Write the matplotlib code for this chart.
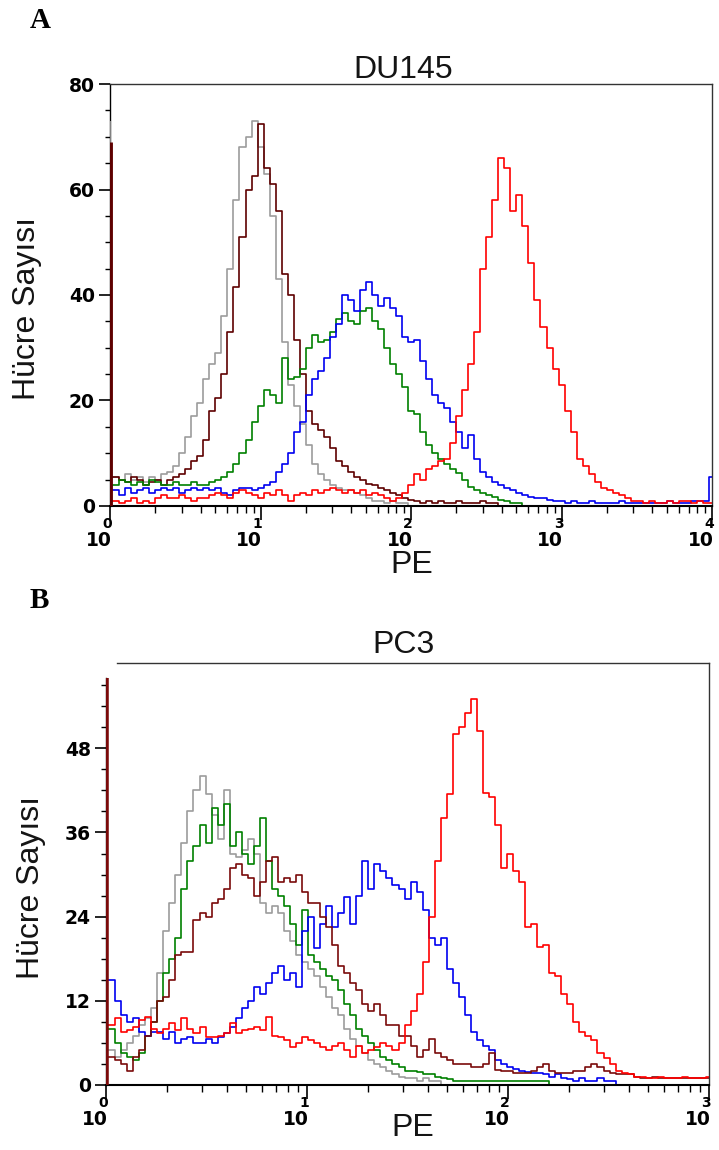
import numpy as np
import matplotlib
matplotlib.use("Agg")
import matplotlib.pyplot as plt
from matplotlib.ticker import LogLocator, NullFormatter, FixedLocator

plt.rcParams['font.family'] = ['Liberation Sans', 'DejaVu Sans']

# channel grid: A spans 4 decades, B spans 3 decades (101 channels each)
chan_a = 10 ** np.linspace(0, 4, 101)
chan_b = 10 ** np.linspace(0, 3, 101)

# ---- panel A: DU145 (counts per channel, first value = channel-0 spike)
gray_a = [73, 5.5, 5, 6, 5, 5.5, 4.5, 5.5, 5, 6,
          6.5, 7.5, 10, 13, 17, 19.5, 24, 27, 29, 36,
          45, 58, 68, 70, 73, 68, 63, 55, 43, 31,
          23, 19, 15.5, 11.5, 8, 6, 5, 4, 3.5, 3,
          3, 2.5, 2, 1.5, 1, 1, 0.5, 1, 0.5, 0.5, 0]
darkred_a = [69, 5.5, 5, 4.5, 5.5, 5, 4, 4.5, 5, 4,
             5, 5.5, 6, 7, 8.5, 9.5, 12.5, 18, 20.5, 25,
             33, 41.5, 51, 60, 62.5, 72.5, 64, 61, 56, 44,
             40, 31.5, 25, 18, 15.5, 14.5, 13, 11, 8.5, 7.5,
             6.5, 5.5, 5, 4.2, 4, 3.5, 3, 2.5, 2, 1.5,
             1.2, 1, 0.5, 1, 0.5, 1, 0.5, 0.5, 1, 0.5,
             0.5, 0.5, 1, 0.5, 0.5, 0]
green_a = [5, 4, 5, 4.5, 4, 4.5, 4, 5, 4.5, 4,
           4, 4.5, 4, 4, 4.5, 4, 4, 4.5, 5, 5.5,
           6.5, 8, 10, 12.5, 16, 19, 22, 21, 19.5, 28,
           24, 24.5, 26, 30, 32.5, 31, 31.5, 33, 35.5, 36.5,
           35, 34.5, 37, 37.5, 35, 33.5, 30, 27, 25, 22.5,
           18, 17.5, 14, 11.5, 10, 9, 8, 7, 6.2, 5,
           3.6, 3, 2.4, 2, 1.8, 1.2, 1, 0.5, 0.5, 0]
blue_a = [25, 3, 2, 3.5, 2.5, 3, 3.5, 2.5, 3, 3.5,
          3, 3.5, 2.5, 3, 3.5, 3, 3.5, 3, 3.5, 2.5,
          2, 3, 3.5, 3.5, 3, 3.5, 4, 4.5, 6.5, 8,
          10, 14, 16, 21, 24, 25.5, 28, 32, 34.5, 40,
          39, 37, 41, 42.5, 40, 38, 39.5, 37.5, 36, 32,
          31, 31.5, 27.5, 24, 21, 19.5, 18.5, 16, 14, 11,
          13.5, 9, 6.5, 5.5, 4.5, 4, 3.5, 3, 2.5, 2,
          1.8, 1.5, 1.5, 1.2, 1, 1, 0.5, 1, 0.5, 0.5,
          1, 0.5, 0.5, 0.5, 0.5, 1, 0.5, 0.5, 0.5, 0.5,
          0.5, 0.5, 0.5, 1, 0.5, 0.5, 0.5, 1, 1, 1, 5.5]
red_a = [3, 1, 0.5, 1, 1.5, 0.5, 1, 0.5, 1.5, 2,
         1.5, 1.5, 2, 1.5, 1, 1.5, 1.5, 2, 2.5, 2,
         1.5, 2.5, 3, 2.5, 2, 1.5, 2.5, 2, 3, 2,
         1, 2, 2.5, 2, 3, 2.5, 3, 3.5, 3, 2.5,
         3, 2.5, 3, 2, 2.5, 2, 1.5, 1, 1.5, 2.5,
         4, 6, 5, 7, 7.5, 8.5, 9, 12, 17, 22,
         27, 33, 45, 51, 58, 66, 64, 56, 59, 53,
         46, 39, 34, 30, 26, 23, 18, 14, 9, 7.5,
         6, 4.5, 3.5, 3, 2.5, 2, 1.5, 1, 1, 0.5,
         1, 0.5, 0.5, 1, 0.5, 1, 1, 0.5, 1, 0.5, 0.5]

# ---- panel B: PC3
gray_b = [5, 5, 4, 5, 6, 7, 8.5, 9.5, 11, 16,
          22, 26, 30, 34.5, 39, 42, 44, 41.5, 38.5, 35,
          42, 33, 32.5, 33.5, 35, 33, 26, 24.5, 25.5, 24.5,
          22, 20.5, 18.5, 17.5, 16.5, 15.5, 14, 12.5, 11, 10,
          8, 6.5, 5.5, 4.5, 3.5, 3, 2.5, 2, 1.5, 1.2,
          1, 1, 0.5, 1, 0.5, 0.5, 0]
green_b = [10, 8, 6, 4.5, 4, 3.5, 4.5, 7, 9, 12,
           16, 18, 21, 28, 32, 34, 37, 34.5, 39.5, 37,
           40, 34, 36, 33, 31.5, 34, 38, 32, 28, 27,
           25.5, 23, 20, 25, 18.5, 17.5, 16.5, 15.5, 15, 13.5,
           11.5, 10, 8, 7, 6, 5, 4, 3.5, 3, 2.5,
           2, 2, 1.8, 1.5, 1.5, 1.2, 1, 0.8, 0.5, 0.5,
           0.5, 0.5, 0.5, 0.5, 0.5, 0.5, 0.5, 0.5, 0.5, 0.5,
           0.5, 0.5, 0.5, 0.5, 0]
blue_b = [14, 15, 12, 10, 9, 9.5, 7.5, 7, 7.5, 7.5,
          6.5, 7.5, 6, 6.5, 6.8, 6, 6, 6.5, 6, 6.8,
          7.4, 8.3, 9.5, 11, 12, 14, 13, 14.5, 16, 17,
          15, 16, 14, 22, 24, 19.5, 23, 25.5, 22.5, 24.5,
          26.8, 23, 27, 32, 28, 31.5, 30.5, 29.5, 28.5, 28,
          26.5, 29, 27.5, 25, 21, 20, 21, 16.5, 14.5, 12.5,
          10, 7.5, 6.4, 5.5, 5, 3.5, 3, 2.6, 2.3, 2,
          1.8, 1.7, 1.7, 1.5, 1.2, 1.5, 1, 0.8, 0.5, 1,
          0.5, 0.5, 1, 0.5, 0.5, 0]
darkred_b = [58, 4, 3.5, 3, 2, 4, 5, 7, 9, 12,
             12.5, 15, 18.5, 19, 19, 23.5, 24.5, 24, 26, 26.5,
             28, 31, 31.5, 30, 29.5, 27, 29, 32, 32.5, 29,
             29.5, 29, 30, 27.5, 26, 26, 24, 22.5, 20, 17,
             16, 14.5, 13.5, 11.5, 10.5, 11.5, 10, 8.5, 8.5, 7,
             7, 5.5, 4, 5, 6.5, 4.5, 4, 3.5, 3, 3,
             3, 2.6, 2.6, 3, 4.5, 2.1, 2, 2, 1.7, 1.7,
             1.7, 2, 2.5, 3, 2, 1.7, 1.7, 1.7, 2, 2,
             2.5, 3, 2.5, 2, 1.7, 1.5, 1.5, 1.5, 1.2, 1,
             1, 1.2, 1, 1, 1, 1, 1, 1, 1, 1, 1]
red_b = [9, 8.5, 9.5, 7.5, 7.8, 8.3, 9.3, 9.7, 8, 7.4,
         8, 8.8, 7.8, 9.5, 8, 7.4, 8.3, 6.8, 6.8, 7,
         7.4, 8.8, 7.4, 7.8, 8, 8.3, 7.8, 9.7, 7, 6.8,
         6.4, 5.4, 6, 6.8, 6.4, 6, 5.4, 5, 5.5, 6,
         5, 4, 5.5, 4.6, 5, 5.4, 6, 5.5, 5, 6,
         8.5, 10.5, 13, 17.5, 24, 32, 38, 41.5, 50, 51,
         53, 55, 50.5, 41.6, 41, 37, 31, 33, 30.5, 29,
         22.5, 23, 19.7, 20, 16, 15.5, 13, 11.5, 9, 7.5,
         7, 6.4, 4.6, 3.8, 3, 2, 1.7, 1.5, 1.2, 1.1,
         1, 1, 1.1, 1, 1, 1, 1.1, 1, 1, 1, 1.1]

decades_a = [0, 1, 2, 3, 4]
decades_b = [0, 1, 2, 3]
yticks_a = [0, 20, 40, 60, 80]
yticks_b = [0, 12, 24, 36, 48]

GRAY, DRED, GREEN, BLUE, RED = '#9c9c9c', '#5e0000', '#008000', '#0000f0', '#ff0000'
TXT = '#141414'


def draw_panel(ax, chan, curves, ymax, yticks, yminor, ytop, decades):
    for vals, col, spike_lw, z in curves:
        vals = np.asarray(vals, float)
        x = chan[:len(vals)]
        y = np.r_[vals[1], vals[1:]]
        ax.plot(x, y, drawstyle='steps-mid', color=col, lw=1.2, zorder=2)
        ax.vlines(chan[0], 0, vals[0], color=col, lw=spike_lw, zorder=z)

    ax.set_xscale('log')
    ax.set_xlim(chan[0], chan[-1])
    ax.set_ylim(0, ymax)
    ax.xaxis.set_major_locator(LogLocator(base=10, numticks=10))
    ax.xaxis.set_minor_locator(LogLocator(base=10, subs=range(2, 10), numticks=20))
    ax.xaxis.set_major_formatter(NullFormatter())
    ax.xaxis.set_minor_formatter(NullFormatter())
    ax.yaxis.set_minor_locator(FixedLocator(np.arange(0, ytop, yminor)))
    ax.set_yticks(yticks)
    ax.set_yticklabels([str(v) for v in yticks], fontsize=13.5,
                       fontweight='bold', family='DejaVu Sans')
    ax.tick_params(axis='x', which='major', length=10, width=1.2, direction='out')
    ax.tick_params(axis='x', which='minor', length=5, width=1, direction='out')
    ax.tick_params(axis='y', which='major', length=8, width=1.2, direction='out', pad=3)
    ax.tick_params(axis='y', which='minor', length=3.5, width=1, direction='out')
    ax.tick_params(top=False, right=False, which='both')

    for e in decades:
        ax.annotate('10', xy=(10 ** e, 0), xycoords=('data', 'axes fraction'),
                    xytext=(1, -25), textcoords='offset points', ha='right', va='center',
                    fontsize=13.5, fontweight='bold', family='DejaVu Sans',
                    annotation_clip=False)
        ax.annotate(str(e), xy=(10 ** e, 0), xycoords=('data', 'axes fraction'),
                    xytext=(1.5, -13), textcoords='offset points', ha='right', va='center',
                    fontsize=10, fontweight='bold', family='DejaVu Sans',
                    annotation_clip=False)

    for side in ['top', 'right']:
        ax.spines[side].set_color('#333333')
        ax.spines[side].set_linewidth(1)
    ax.spines['left'].set_linewidth(1)
    ax.spines['bottom'].set_linewidth(1.5)


fig = plt.figure(figsize=(7.19, 11.5), dpi=100)

ax_a = fig.add_axes([110 / 719, 1 - 506 / 1150, 602 / 719, 422 / 1150])
draw_panel(ax_a, chan_a,
           [(gray_a, GRAY, 1.2, 3), (darkred_a, DRED, 3.5, 4), (green_a, GREEN, 1.2, 2),
            (blue_a, BLUE, 1.2, 2), (red_a, RED, 1.2, 2)],
           80, yticks_a, 5, 80, decades_a)
ax_a.text(0.487, 1 + 6 / 422, 'DU145', transform=ax_a.transAxes, ha='center',
          va='baseline', fontsize=23, color=TXT)
ax_a.text(0.502, -59 / 422, 'PE', transform=ax_a.transAxes, ha='center', va='center',
          fontsize=23, color=TXT)
ax_a.text(-0.138, 0.469, 'Hücre Sayısı', transform=ax_a.transAxes, ha='center',
          va='center', rotation=90, fontsize=23, color=TXT)

ax_b = fig.add_axes([106 / 719, 1 - 1085 / 1150, 603 / 719, 422.3 / 1150])
draw_panel(ax_b, chan_b,
           [(gray_b, GRAY, 1.2, 2), (green_b, GREEN, 1.2, 2), (blue_b, BLUE, 1.2, 2),
            (darkred_b, '#7a0a0a', 4, 4), (red_b, RED, 1.2, 2)],
           60.2, yticks_b, 3, darkred_b[0], decades_b)
ax_b.spines['left'].set_bounds(0, darkred_b[0])
ax_b.spines['top'].set_bounds(10 ** 0.055, chan_b[-1])
ax_b.text(0.494, 1 + 9.7 / 422.3, 'PC3', transform=ax_b.transAxes, ha='center',
          va='baseline', fontsize=23, color=TXT)
ax_b.text(0.508, -43 / 422.3, 'PE', transform=ax_b.transAxes, ha='center', va='center',
          fontsize=23, color=TXT)
ax_b.text(-0.124, 0.468, 'Hücre Sayısı', transform=ax_b.transAxes, ha='center',
          va='center', rotation=90, fontsize=23, color=TXT)

fig.text(30 / 719, 1 - 28 / 1150, 'A', family='Liberation Serif', fontweight='bold',
         fontsize=21, ha='left', va='baseline')
fig.text(30 / 719, 1 - 608 / 1150, 'B', family='Liberation Serif', fontweight='bold',
         fontsize=21, ha='left', va='baseline')

fig.savefig('out.png', dpi=100)
